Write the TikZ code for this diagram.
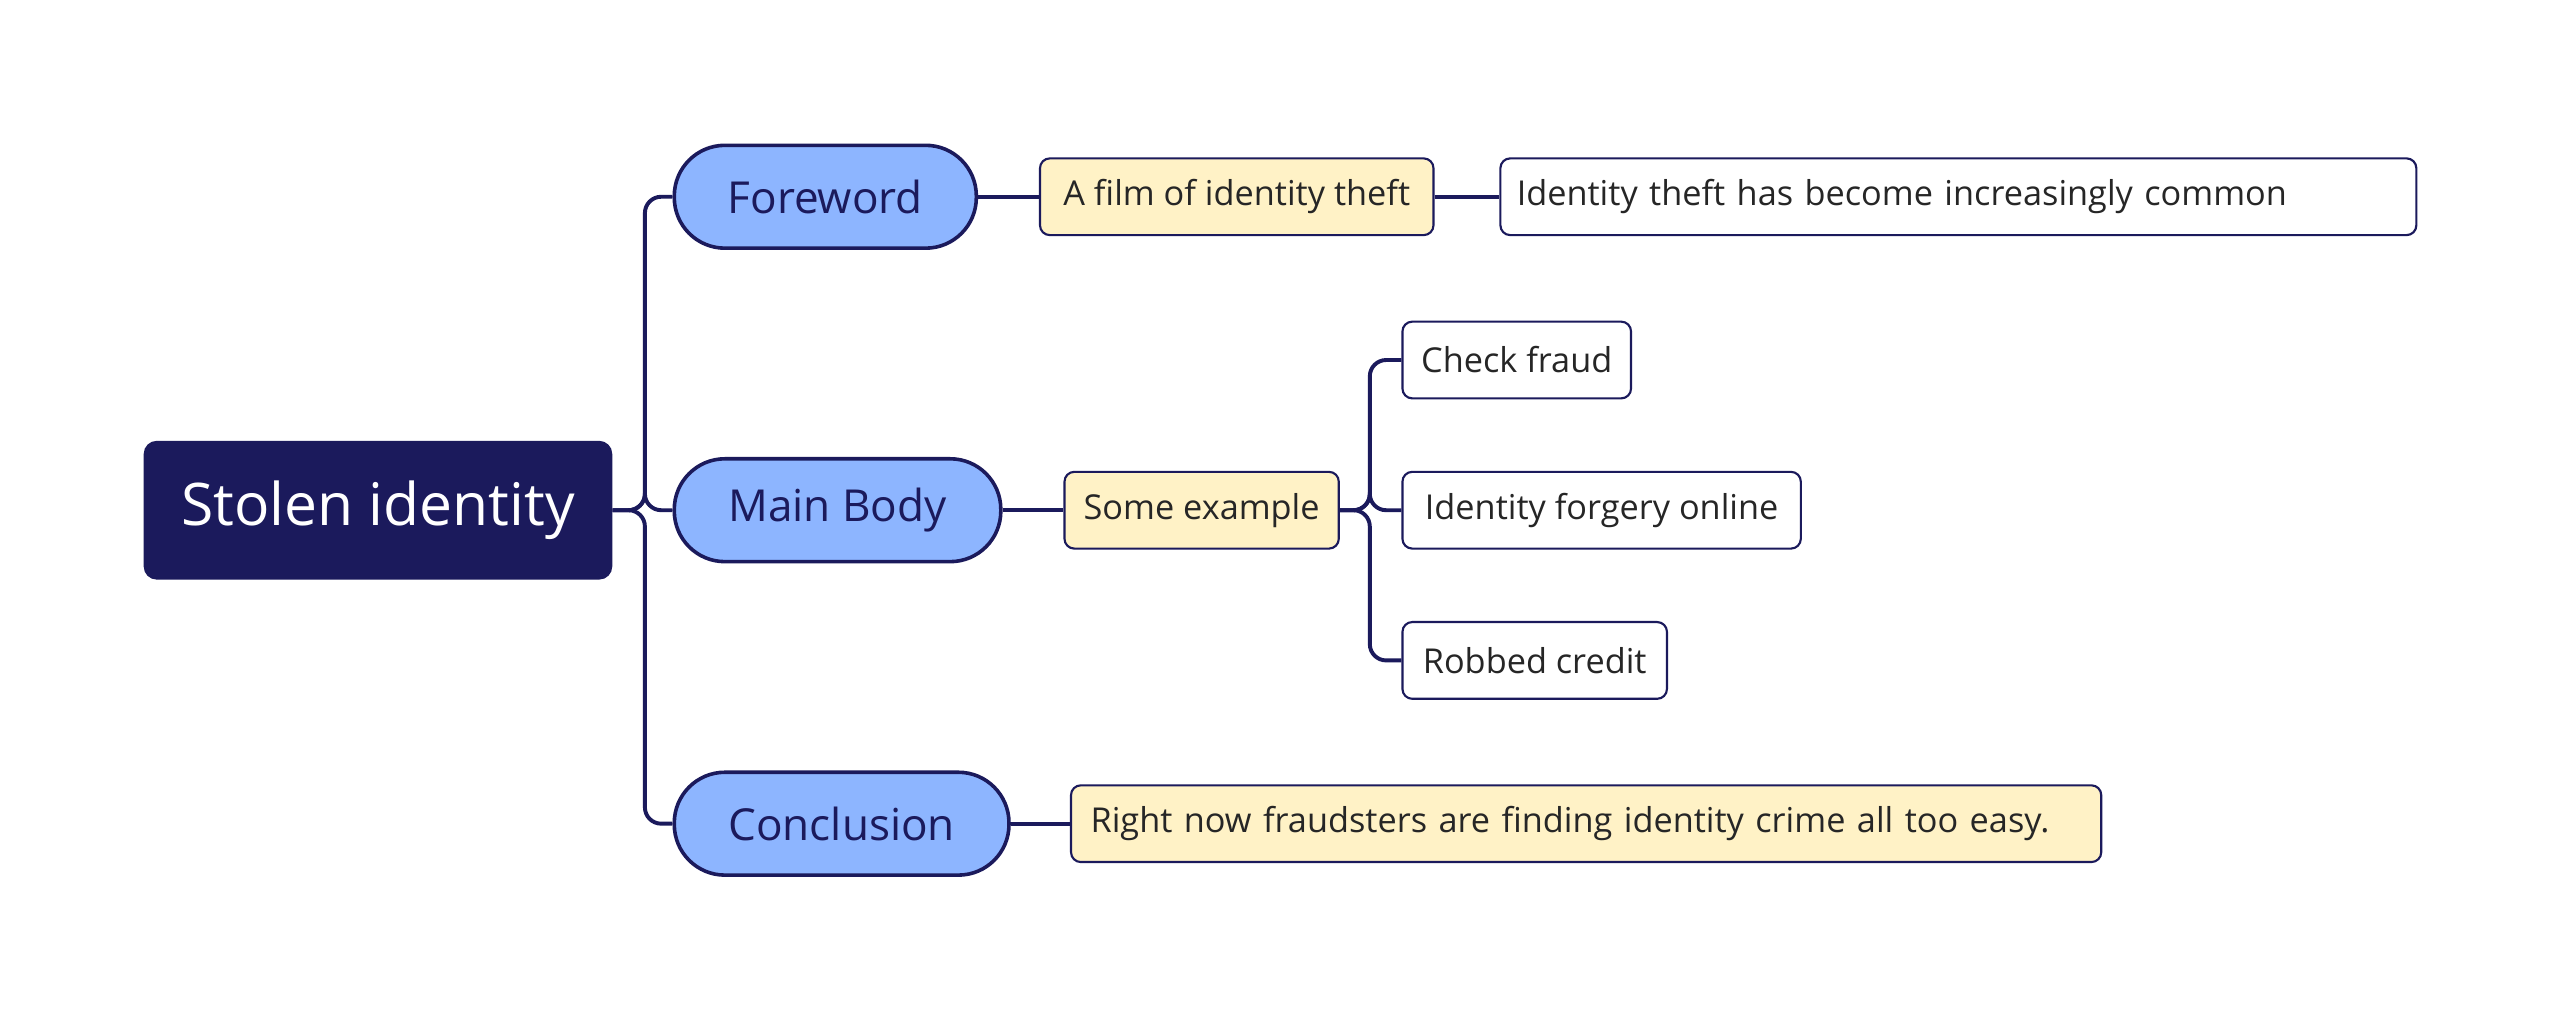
\documentclass[tikz,border=0pt]{standalone}
\usepackage{fontspec}
\setmainfont{Open Sans}
\definecolor{navy}{HTML}{1B1A5C}
\definecolor{pill}{HTML}{8DB5FF}
\definecolor{cream}{HTML}{FFF2C6}
\begin{document}
\begin{tikzpicture}[x=1pt,y=-1pt,
  rootbox/.style={fill=navy,rounded corners=8pt,text=white,font=\fontsize{36}{40}\selectfont,minimum width=287pt,minimum height=85pt,inner sep=0pt},
  pillbox/.style={fill=pill,draw=navy,line width=2.2pt,rounded corners=31pt,text=navy,font=\fontsize{27}{30}\selectfont,minimum height=63pt,inner sep=0pt},
  leafbox/.style={draw=navy,line width=1.3pt,rounded corners=6pt,text=black!85,font=\fontsize{21}{24}\selectfont,minimum height=47pt,inner sep=0pt,align=left},
  yel/.style={leafbox,fill=cream},
  wht/.style={leafbox,fill=white},
  link/.style={draw=navy,line width=2.4pt,rounded corners=10pt}]
\useasboundingbox (0,0) rectangle (1568,625);
\fill[white] (0,0) rectangle (1568,625);
\node[rootbox] (root) at (231.5,312.5) {Stolen identity};
\node[pillbox,minimum width=185pt] (fw) at (505.5,120.5) {Foreword};
\node[pillbox,minimum width=200pt] (mb) at (513,312.5) {Main Body};
\node[pillbox,minimum width=205pt] (cc) at (515.5,504.5) {Conclusion};
\node[yel,minimum width=241pt] (af) at (757.5,120.5) {A film of identity theft};
\node[wht,text width=541pt,minimum width=561pt] (it) at (1199.5,120.5) {Identity theft has become increasingly common};
\node[yel,minimum width=168pt] (se) at (736,312.5) {Some example};
\node[wht,minimum width=140pt] (cf) at (929,220.5) {Check fraud};
\node[wht,minimum width=244pt] (io) at (981,312.5) {Identity forgery online};
\node[wht,minimum width=162pt] (rc) at (940,404.5) {Robbed credit};
\node[yel,text width=607pt,minimum width=631pt] (rn) at (971.5,504.5) {Right now fraudsters are finding identity crime all too easy.};
\foreach \t in {fw,mb,cc}
  \draw[link] (root.east) -- (395,312.5) |- (\t.west);
\draw[link] (fw.east) -- (af.west);
\draw[link] (af.east) -- (it.west);
\draw[link] (mb.east) -- (se.west);
\draw[link] (cc.east) -- (rn.west);
\foreach \t in {cf,io,rc}
  \draw[link] (se.east) -- (839,312.5) |- (\t.west);
\end{tikzpicture}
\end{document}
